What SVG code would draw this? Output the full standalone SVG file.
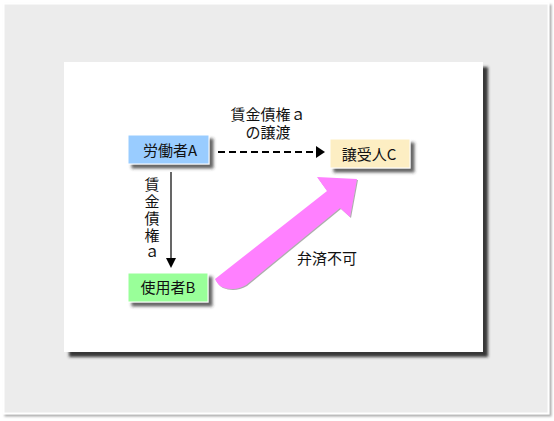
<svg xmlns="http://www.w3.org/2000/svg" width="554" height="421" viewBox="0 0 554 421">
<defs>
<filter id="fs" x="-10%" y="-10%" width="130%" height="130%"><feDropShadow dx="2" dy="2" stdDeviation="1" flood-color="#888" flood-opacity="0.7"/></filter>
<filter id="ps" x="-5%" y="-5%" width="115%" height="115%"><feDropShadow dx="5" dy="5" stdDeviation="1.6" flood-color="#222" flood-opacity="0.9"/></filter>
<filter id="ns" x="-20%" y="-30%" width="150%" height="180%"><feDropShadow dx="4" dy="4" stdDeviation="1.5" flood-color="#333" flood-opacity="0.75"/></filter>
<filter id="as" x="-10%" y="-10%" width="130%" height="130%"><feDropShadow dx="1" dy="1" stdDeviation="0.4" flood-color="#999" flood-opacity="0.8"/></filter>
</defs>
<style>
text{font-family:"Noto Sans CJK JP","Liberation Sans",sans-serif;font-size:15px;fill:#111;}
.node rect{stroke:#fff;stroke-width:1;filter:url(#ns);}
.lbl{text-anchor:middle;}
</style>
<rect x="3.5" y="3.5" width="545" height="410" fill="#ececec" stroke="#fff" stroke-width="2" filter="url(#fs)"/>
<rect x="64" y="62" width="419" height="290" fill="#fff" filter="url(#ps)"/>
<g id="connectors">
<line x1="218" y1="152" x2="316" y2="152" stroke="#000" stroke-width="2" stroke-dasharray="7,4"/>
<path d="M316,146 L325,152 L316,158 Z" fill="#000"/>
<line x1="171" y1="172" x2="171" y2="259" stroke="#000" stroke-width="1.2"/>
<path d="M166,258 L176,258 L171,268 Z" fill="#000"/>
<path id="pink" d="M215,279 L327,191 L317,177 L357,179 L350,217 L340,208 L246,285 Q234,292 222,287 Q217,284 215,279 Z" fill="#ff80ff" filter="url(#as)"/>
</g>
<g id="label-transfer">
<text class="lbl" x="268" y="120">賃金債権ａ<tspan x="268" dy="18">の譲渡</tspan></text>
</g>
<g id="label-claim">
<text x="152" y="177" writing-mode="vertical-rl" letter-spacing="2">賃金債権ａ</text>
</g>
<g id="label-nopay">
<text x="297" y="264">弁済不可</text>
</g>
<g id="nodeA" class="node">
<rect x="128" y="135" width="81" height="29" fill="#99ccff"/>
<text class="lbl" x="170" y="156">労働者A</text>
</g>
<g id="nodeB" class="node">
<rect x="128" y="273" width="80" height="29" fill="#99ff99"/>
<text class="lbl" x="168" y="293">使用者B</text>
</g>
<g id="nodeC" class="node">
<rect x="330" y="139" width="80" height="29" fill="#fdeec3"/>
<text class="lbl" x="369" y="160">譲受人C</text>
</g>
</svg>
